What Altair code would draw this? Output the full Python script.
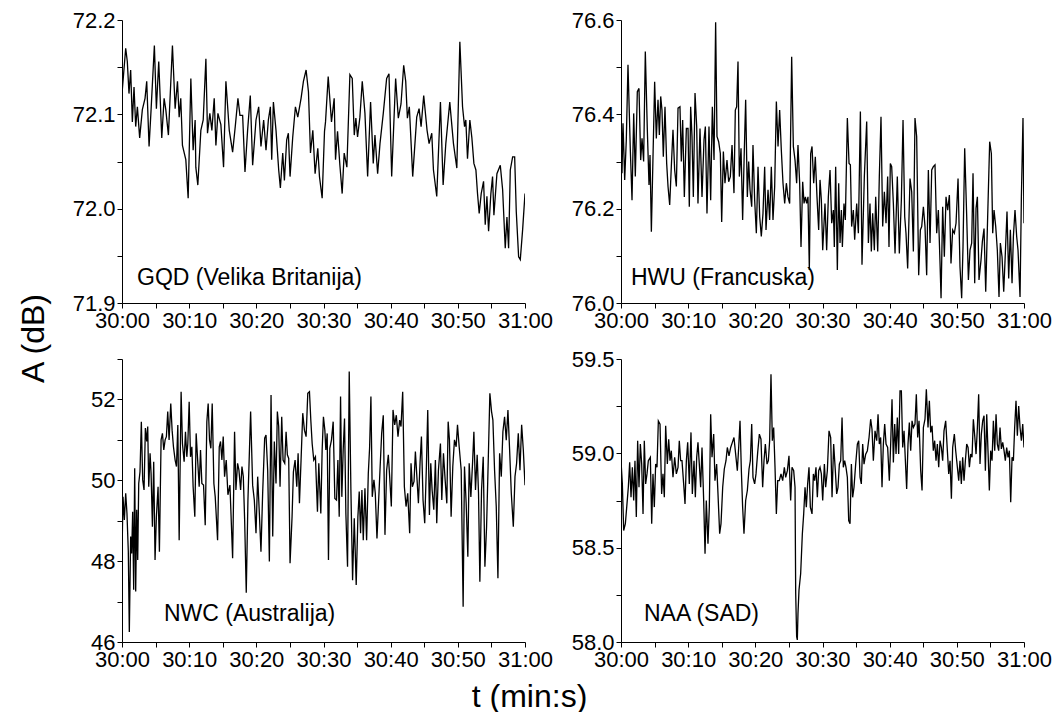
import altair as alt
import pandas as pd

# ---------------- data ----------------
gqd_t = [0.0, 0.55, 0.79, 1.04, 1.29, 1.54, 1.79, 2.04, 2.29, 2.63, 3.03, 3.43, 3.68, 4.03, 4.33, 4.82, 5.12, 5.47,
         5.92, 6.27, 6.52, 6.91, 7.51, 7.91, 8.26, 8.51, 8.75, 9.00, 9.50, 9.85, 10.25, 10.59, 10.89, 10.99, 11.29,
         11.74, 12.09, 12.49, 12.73, 13.08, 13.38, 13.73, 13.98, 14.28, 14.72, 15.12, 15.47, 15.97, 16.47, 16.86,
         17.26, 17.56, 17.96, 18.31, 18.70, 19.10, 19.45, 19.95, 20.35, 20.69, 21.09, 21.44, 21.79, 22.09, 22.29,
         22.54, 22.93, 23.33, 23.58, 23.93, 24.18, 24.52, 24.77, 25.02, 25.42, 25.82, 26.17, 26.66, 27.01, 27.41,
         27.76, 28.06, 28.41, 28.75, 29.15, 29.40, 29.80, 30.15, 30.30, 30.70, 31.19, 31.59, 31.79, 32.09, 32.44,
         32.78, 33.08, 33.48, 33.93, 34.28, 34.58, 34.82, 35.07, 35.42, 35.77, 36.17, 36.57, 37.01, 37.41, 37.66,
         38.06, 38.41, 38.90, 39.40, 39.75, 40.15, 40.74, 41.14, 41.54, 41.94, 42.24, 42.49, 42.78, 43.28, 43.88,
         44.23, 44.53, 44.92, 45.42, 45.72, 46.12, 46.37, 46.86, 47.41, 47.81, 48.21, 48.80, 49.35, 49.85, 50.30,
         50.70, 51.00, 51.19, 51.44, 51.79, 52.09, 52.39, 52.69, 52.93, 53.18, 53.48, 53.83, 54.08, 54.33, 54.58,
         54.92, 55.17, 55.37, 55.82, 56.32, 56.67, 57.06, 57.31, 57.56, 57.81, 58.16, 58.46, 58.70, 59.05, 59.30,
         59.65, 60.00]
gqd_a = [72.122, 72.170, 72.156, 72.122, 72.147, 72.092, 72.129, 72.087, 72.108, 72.075, 72.105, 72.117, 72.135,
         72.066, 72.105, 72.173, 72.106, 72.156, 72.075, 72.117, 72.105, 72.078, 72.173, 72.106, 72.135, 72.097,
         72.117, 72.067, 72.052, 72.011, 72.138, 72.062, 72.094, 72.044, 72.025, 72.083, 72.094, 72.159, 72.080,
         72.101, 72.083, 72.117, 72.067, 72.101, 72.089, 72.044, 72.135, 72.083, 72.060, 72.087, 72.117, 72.099,
         72.099, 72.039, 72.083, 72.120, 72.046, 72.094, 72.108, 72.066, 72.094, 72.062, 72.094, 72.108, 72.052,
         72.113, 72.083, 72.041, 72.022, 72.059, 72.030, 72.073, 72.080, 72.034, 72.076, 72.108, 72.097, 72.117,
         72.135, 72.147, 72.124, 72.059, 72.083, 72.037, 72.064, 72.034, 72.011, 72.082, 72.092, 72.140, 72.092,
         72.117, 72.052, 72.082, 72.046, 72.016, 72.059, 72.044, 72.142, 72.138, 72.078, 72.096, 72.076, 72.097,
         72.135, 72.101, 72.034, 72.113, 72.048, 72.078, 72.037, 72.069, 72.101, 72.138, 72.143, 72.034, 72.138,
         72.096, 72.111, 72.152, 72.135, 72.096, 72.108, 72.034, 72.097, 72.106, 72.087, 72.120, 72.083, 72.069,
         72.080, 72.041, 72.013, 72.113, 72.025, 72.069, 72.113, 72.069, 72.043, 72.177, 72.108, 72.087, 72.094,
         72.053, 72.094, 72.075, 72.048, 72.041, 72.016, 71.995, 72.016, 72.029, 71.983, 72.013, 71.976, 72.016,
         72.034, 71.993, 72.037, 72.046, 72.020, 71.958, 71.991, 71.958, 72.041, 72.055, 72.055, 71.997, 71.949,
         71.946, 71.978, 72.016]

hwu_t = [0.05, 0.15, 0.30, 0.55, 0.79, 1.04, 1.39, 1.64, 1.89, 2.13, 2.43, 2.68, 2.93, 3.13, 3.37, 3.62, 3.92, 4.17,
         4.32, 4.52, 5.01, 5.26, 5.51, 5.71, 5.91, 6.10, 6.30, 6.55, 6.80, 7.00, 7.25, 7.49, 7.74, 7.99, 8.24, 8.49,
         8.78, 8.98, 9.18, 9.43, 9.73, 9.98, 10.17, 10.37, 10.57, 10.77, 11.02, 11.27, 11.46, 11.76, 12.06, 12.36,
         12.56, 12.80, 13.10, 13.35, 13.60, 13.85, 14.09, 14.29, 14.54, 14.79, 14.99, 15.24, 15.48, 15.78, 16.03,
         16.28, 16.53, 16.82, 17.02, 17.22, 17.42, 17.62, 17.87, 18.11, 18.36, 18.56, 18.81, 19.01, 19.21, 19.46,
         19.65, 19.90, 20.15, 20.40, 20.65, 20.89, 21.14, 21.39, 21.59, 21.89, 22.13, 22.38, 22.63, 22.88, 23.13,
         23.38, 23.62, 23.87, 24.12, 24.37, 24.62, 24.86, 25.11, 25.41, 25.66, 25.91, 26.15, 26.35, 26.60, 26.80,
         27.05, 27.25, 27.45, 27.64, 27.84, 28.04, 28.24, 28.44, 28.69, 28.93, 29.18, 29.43, 29.63, 29.83, 30.03,
         30.37, 30.62, 30.87, 31.12, 31.37, 31.62, 31.76, 31.96, 32.21, 32.41, 32.61, 32.81, 32.96, 33.20, 33.40,
         33.70, 33.95, 34.15, 34.34, 34.59, 34.79, 35.09, 35.34, 35.64, 35.88, 36.23, 36.58, 36.83, 37.07, 37.27,
         37.47, 37.72, 37.92, 38.22, 38.46, 38.71, 38.96, 39.21, 39.46, 39.70, 39.90, 40.10, 40.30, 40.55, 40.80,
         41.14, 41.44, 41.74, 41.99, 42.24, 42.43, 42.68, 43.03, 43.28, 43.53, 43.77, 44.02, 44.32, 44.57, 44.77,
         45.02, 45.26, 45.51, 45.76, 46.01, 46.26, 46.50, 46.75, 47.00, 47.25, 47.50, 47.65, 47.89, 48.14, 48.39,
         48.64, 48.89, 49.13, 49.38, 49.63, 49.88, 50.18, 50.47, 50.72, 50.92, 51.17, 51.47, 51.72, 51.96, 52.21,
         52.41, 52.66, 52.86, 53.06, 53.30, 53.60, 53.80, 54.05, 54.30, 54.59, 54.89, 55.14, 55.34, 55.54, 55.79,
         56.03, 56.28, 56.48, 56.73, 56.98, 57.22, 57.47, 57.72, 57.97, 58.22, 58.42, 58.66, 58.91, 59.11, 59.41,
         59.61, 59.85, 60.00]
hwu_a = [76.385, 76.275, 76.381, 76.261, 76.346, 76.505, 76.324, 76.218, 76.402, 76.268, 76.448, 76.455, 76.303,
         76.349, 76.300, 76.533, 76.367, 76.250, 76.314, 76.151, 76.469, 76.349, 76.431, 76.356, 76.438, 76.409,
         76.310, 76.416, 76.296, 76.247, 76.208, 76.289, 76.367, 76.282, 76.247, 76.413, 76.416, 76.300, 76.388,
         76.225, 76.370, 76.370, 76.204, 76.416, 76.353, 76.225, 76.445, 76.374, 76.211, 76.370, 76.225, 76.346,
         76.374, 76.190, 76.374, 76.218, 76.416, 76.303, 76.595, 76.353, 76.342, 76.317, 76.172, 76.321, 76.254,
         76.303, 76.257, 76.268, 76.335, 76.233, 76.409, 76.416, 76.512, 76.268, 76.328, 76.176, 76.324, 76.431,
         76.225, 76.300, 76.240, 76.204, 76.335, 76.218, 76.148, 76.289, 76.183, 76.141, 76.190, 76.289, 76.155,
         76.240, 76.176, 76.289, 76.176, 76.247, 76.427, 76.332, 76.409, 76.324, 76.254, 76.211, 76.254, 76.225,
         76.211, 76.522, 76.332, 76.303, 76.254, 76.335, 76.254, 76.119, 76.257, 76.211, 76.225, 76.211, 76.225,
         76.070, 76.317, 76.332, 76.254, 76.310, 76.225, 76.155, 76.261, 76.218, 76.112,
         76.211, 76.112, 76.225, 76.282, 76.169, 76.197, 76.119, 76.289, 76.070, 76.254, 76.127, 76.197, 76.119,
         76.211, 76.176, 76.392, 76.296, 76.293, 76.162, 76.197, 76.134, 76.211, 76.148, 76.406, 76.081, 76.268,
         76.385, 76.127, 76.211, 76.109, 76.190, 76.112, 76.225, 76.109, 76.268, 76.395, 76.162, 76.236, 76.169,
         76.268, 76.119, 76.296, 76.289, 76.211, 76.105, 76.268, 76.105, 76.218, 76.388, 76.183, 76.148, 76.073,
         76.264, 76.236, 76.109, 76.392, 76.353, 76.059, 76.155, 76.162, 76.204, 76.162, 76.059, 76.282, 76.127,
         76.282, 76.289, 76.293, 76.148, 76.197, 76.084, 76.010, 76.204, 76.098, 76.225, 76.197, 76.229, 76.084,
         76.155, 76.148, 76.169, 76.264, 76.077, 76.010, 76.119, 76.328, 76.183, 76.049, 76.112, 76.127, 76.275,
         76.042, 76.201, 76.225, 76.049, 76.091, 76.130, 76.158, 76.024, 76.183, 76.342, 76.317, 76.148, 76.197,
         76.162, 76.112, 76.013, 76.127, 76.098, 76.024, 76.105, 76.194, 76.052, 76.155, 76.042, 76.141, 76.197,
         76.141, 76.112, 76.013, 76.225, 76.392, 76.169]

nwc_t = [0.0, 0.15, 0.35, 0.55, 0.74, 0.94, 1.09, 1.29, 1.44, 1.59, 1.74, 1.89, 2.04, 2.19, 2.34, 2.49, 2.68, 2.88,
         3.08, 3.28, 3.48, 3.68, 3.83, 3.98, 4.18, 4.33, 4.53, 4.72, 4.92, 5.12, 5.37, 5.57, 5.82, 6.02, 6.22, 6.42,
         6.61, 6.81, 7.01, 7.26, 7.46, 7.66, 7.91, 8.11, 8.31, 8.51, 8.80, 9.00, 9.25, 9.45, 9.65, 9.80, 10.00,
         10.20, 10.40, 10.59, 10.84, 11.04, 11.29, 11.49, 11.69, 11.89, 12.14, 12.39, 12.63, 12.83, 13.03, 13.23,
         13.43, 13.68, 13.88, 14.23, 14.48, 14.67, 14.87, 15.07, 15.27, 15.52, 15.77, 16.07, 16.47, 16.76, 16.96,
         17.21, 17.41, 17.66, 17.86, 18.06, 18.26, 18.50, 18.75, 19.15, 19.45, 19.70, 19.95, 20.20, 20.45, 20.69,
         20.94, 21.24, 21.44, 21.69, 21.94, 22.19, 22.44, 22.68, 22.93, 23.13, 23.33, 23.53, 23.78, 23.98, 24.23,
         24.43, 24.62, 24.82, 25.02, 25.32, 25.52, 25.77, 26.02, 26.22, 26.42, 26.66, 26.91, 27.16, 27.41, 27.66,
         27.91, 28.11, 28.31, 28.55, 28.80, 29.10, 29.30, 29.60, 29.80, 29.99, 30.20, 30.35, 30.55, 30.74, 30.94,
         31.19, 31.44, 31.69, 31.94, 32.14, 32.34, 32.54, 32.73, 32.93, 33.13, 33.33, 33.58, 33.83, 34.08, 34.33,
         34.58, 34.87, 35.12, 35.32, 35.52, 35.72, 35.92, 36.17, 36.42, 36.67, 36.86, 37.06, 37.26, 37.51, 37.71,
         37.96, 38.16, 38.41, 38.66, 38.90, 39.15, 39.40, 39.65, 39.85, 40.10, 40.35, 40.60, 40.84, 41.09, 41.34,
         41.54, 41.79, 42.04, 42.29, 42.54, 42.83, 43.03, 43.23, 43.48, 43.68, 43.93, 44.13, 44.38, 44.58, 44.82,
         45.07, 45.32, 45.52, 45.77, 45.97, 46.17, 46.42, 46.66, 46.86, 47.11, 47.41, 47.61, 47.86, 48.11, 48.36,
         48.56, 48.75, 49.00, 49.25, 49.50, 49.75, 49.95, 50.20, 50.50, 50.79, 50.99, 51.24, 51.49, 51.69, 51.94,
         52.19, 52.39, 52.63, 52.88, 53.08, 53.28, 53.53, 53.78, 54.03, 54.28, 54.53, 54.77, 55.02, 55.22, 55.47,
         55.72, 55.97, 56.22, 56.47, 56.71, 56.96, 57.21, 57.46, 57.71, 57.96, 58.26, 58.51, 58.75, 59.00, 59.25,
         59.50, 59.75, 60.00]
nwc_a = [48.19, 49.59, 49.02, 49.68, 49.18, 48.23, 46.25, 48.61, 48.19, 49.22, 47.29, 50.30, 47.25, 49.27, 48.03,
         49.92, 50.21, 51.45, 50.01, 49.76, 51.29, 50.96, 51.33, 49.84, 50.67, 50.17, 48.85, 50.46, 48.03, 49.10,
         49.84, 48.23, 51.00, 51.16, 50.75, 51.00, 51.08, 51.70, 51.00, 51.90, 51.24, 50.83, 50.50, 50.34, 51.37,
         48.52, 52.19, 50.91, 50.46, 51.20, 50.58, 50.91, 51.94, 50.58, 50.83, 49.84, 49.10, 51.16, 50.42, 49.84,
         50.75, 49.92, 49.88, 48.89, 51.45, 51.90, 51.00, 50.79, 51.90, 49.92, 49.59, 48.52, 50.83, 50.96, 50.50,
         51.08, 50.09, 50.50, 49.64, 49.88, 48.07, 51.20, 49.76, 50.42, 50.25, 49.76, 50.34, 50.09, 49.02, 47.22,
         49.51, 51.70, 49.88, 49.51, 48.69, 50.09, 49.18, 48.23, 49.68, 51.04, 51.12, 50.25, 47.99, 52.11, 48.61,
         50.96, 49.92, 51.70, 51.33, 49.84, 51.57, 50.50, 50.42, 51.20, 50.63, 50.54, 47.95, 49.10, 50.21, 50.50,
         49.84, 50.67, 49.43, 50.50, 51.66, 51.24, 51.08, 52.15, 52.19, 51.49, 50.91, 50.50, 50.58, 49.22, 50.42,
         49.18, 50.75, 51.57, 51.24, 50.75, 51.16, 48.03, 50.79, 51.00, 51.45, 49.55, 49.51, 50.50, 49.10, 52.07,
         49.59, 50.75, 51.53, 49.18, 47.86, 52.69, 49.76, 47.53, 49.06, 47.41, 49.10, 49.72, 48.69, 49.76, 48.52,
         49.80, 48.52, 50.17, 50.79, 52.07, 49.59, 50.01, 49.68, 48.56, 49.31, 50.25, 51.16, 51.61, 48.65, 50.25,
         50.63, 50.09, 49.35, 51.74, 51.37, 51.61, 51.08, 51.49, 51.33, 52.19, 49.84, 49.35, 49.68, 48.69, 50.42,
         49.84, 49.97, 50.71, 50.01, 49.43, 50.46, 51.08, 49.51, 48.94, 50.34, 51.74, 49.14, 50.42, 49.76, 49.27,
         50.50, 48.94, 50.25, 50.91, 49.51, 50.67, 50.01, 49.43, 51.45, 51.00, 49.10, 50.34, 51.00, 50.83, 51.37,
         50.83, 50.25, 46.87, 50.34, 49.43, 48.11, 50.42, 49.59, 50.42, 51.20, 49.76, 50.63, 49.68, 47.49, 49.76,
         50.58, 47.86, 48.85, 50.50, 52.15, 51.70, 51.49, 50.25, 49.35, 47.58, 50.67, 50.09, 51.20, 51.57, 50.99,
         51.74, 50.75, 49.68, 48.85, 50.09, 50.42, 51.16, 50.25, 51.37, 50.75, 49.88]

naa_t = [0.0, 0.20, 0.40, 0.65, 0.89, 1.09, 1.29, 1.49, 1.69, 1.89, 2.08, 2.28, 2.48, 2.68, 2.88, 3.08, 3.28, 3.47,
         3.67, 3.87, 4.07, 4.37, 4.57, 4.76, 4.96, 5.16, 5.36, 5.56, 5.81, 6.05, 6.25, 6.45, 6.65, 6.90, 7.10, 7.30,
         7.49, 7.74, 7.99, 8.24, 8.49, 8.68, 8.88, 9.08, 9.33, 9.53, 9.73, 9.93, 10.17, 10.42, 10.62, 10.87, 11.07,
         11.27, 11.46, 11.66, 11.86, 12.06, 12.31, 12.51, 12.70, 12.95, 13.15, 13.35, 13.55, 13.80, 13.99, 14.24,
         14.44, 14.69, 14.89, 15.14, 15.38, 15.63, 15.83, 16.08, 16.33, 16.58, 16.82, 17.07, 17.32, 17.52, 17.72,
         17.92, 18.11, 18.31, 18.56, 18.81, 19.06, 19.26, 19.46, 19.65, 19.90, 20.10, 20.35, 20.60, 20.84, 21.09,
         21.29, 21.49, 21.74, 21.94, 22.13, 22.33, 22.53, 22.73, 22.93, 23.13, 23.33, 23.57, 23.82, 24.07, 24.32,
         24.52, 24.77, 25.01, 25.26, 25.46, 25.71, 25.91, 26.01, 26.15, 26.25, 26.35, 26.50, 26.75, 27.00, 27.20,
         27.40, 27.59, 27.79, 27.99, 28.19, 28.44, 28.64, 28.83, 29.03, 29.23, 29.43, 29.63, 29.83, 30.03, 30.28,
         30.47, 30.72, 30.97, 31.22, 31.42, 31.66, 31.91, 32.11, 32.31, 32.51, 32.71, 32.91, 33.10, 33.30, 33.50,
         33.70, 33.90, 34.10, 34.30, 34.49, 34.69, 34.94, 35.19, 35.39, 35.59, 35.78, 35.98, 36.18, 36.43, 36.68,
         36.93, 37.17, 37.37, 37.57, 37.82, 38.07, 38.27, 38.46, 38.66, 38.86, 39.06, 39.26, 39.46, 39.70, 39.95,
         40.15, 40.35, 40.55, 40.75, 40.95, 41.14, 41.34, 41.54, 41.74, 41.94, 42.14, 42.34, 42.53, 42.73, 42.93,
         43.13, 43.33, 43.53, 43.77, 43.97, 44.17, 44.37, 44.62, 44.82, 45.02, 45.26, 45.46, 45.71, 45.91, 46.11,
         46.31, 46.50, 46.70, 46.90, 47.10, 47.30, 47.50, 47.70, 47.89, 48.09, 48.34, 48.59, 48.79, 48.99, 49.19,
         49.38, 49.63, 49.83, 50.08, 50.28, 50.47, 50.67, 50.87, 51.07, 51.27, 51.47, 51.67, 51.87, 52.06, 52.26,
         52.46, 52.66, 52.86, 53.06, 53.25, 53.45, 53.65, 53.85, 54.05, 54.25, 54.45, 54.64, 54.84, 55.04, 55.24,
         55.44, 55.64, 55.84, 56.03, 56.23, 56.43, 56.63, 56.83, 57.03, 57.22, 57.42, 57.62, 57.82, 58.02, 58.22,
         58.42, 58.61, 58.81, 59.01, 59.21, 59.41, 59.61, 59.81, 60.00]
naa_a = [58.961, 58.838, 58.591, 58.627, 58.732, 58.820, 58.952, 58.767, 58.926, 58.750, 58.961, 58.662, 59.067,
         58.820, 59.049, 58.943, 58.679, 59.067, 58.838, 58.891, 58.961, 58.979, 58.627, 58.891, 58.715, 58.943,
         58.926, 59.172, 59.155, 58.785, 58.891, 58.767, 59.146, 58.943, 59.075, 58.961, 59.014, 58.873, 58.979,
         58.891, 58.926, 59.067, 58.961, 58.961, 58.838, 58.732, 58.961, 59.058, 58.838, 59.111, 58.785, 58.961,
         58.767, 58.979, 59.058, 58.943, 58.820, 59.031, 58.750, 58.468, 58.750, 58.521, 58.715, 59.207, 58.979,
         59.102, 58.855, 58.943, 58.785, 58.574, 58.627, 58.820, 58.917, 58.961, 59.031, 58.987, 59.031, 59.058,
         59.084, 58.996, 58.908, 59.031, 59.172, 58.908, 58.715, 58.574, 58.750, 58.803, 58.917, 58.961, 59.155,
         58.873, 58.838, 58.891, 59.005, 59.102, 59.075, 58.820, 58.961, 59.049, 58.943, 58.961, 59.067, 59.419,
         59.067, 59.137, 58.926, 58.679, 58.855, 58.855, 58.891, 58.855, 58.926, 58.873, 58.908, 58.987, 58.750,
         58.926, 58.908, 58.820, 58.257, 58.028, 58.011, 58.151, 58.275, 58.363, 58.574, 58.679, 58.820, 58.715,
         58.838, 58.926, 58.715, 58.679, 58.891, 58.855, 58.926, 58.767, 58.908, 58.926, 58.891, 58.750, 58.943,
         58.820, 58.908, 59.119, 59.084, 58.767, 59.049, 58.908, 58.785, 58.820, 58.943, 58.961, 59.190, 58.926,
         58.961, 58.926, 58.873, 58.644, 58.627, 58.943, 58.767, 58.820, 58.943, 59.049, 59.067, 58.873, 58.838,
         59.049, 58.943, 58.996, 59.014, 59.084, 59.181, 59.128, 58.961, 59.119, 59.067, 59.207, 59.049, 59.084,
         58.820, 59.049, 59.155, 59.049, 59.031, 58.855, 59.049, 59.287, 58.952, 59.155, 58.996, 59.190, 58.996,
         59.331, 59.331, 59.031, 59.119, 58.961, 58.811, 59.049, 59.163, 59.014, 59.172, 59.137, 59.155, 59.313,
         59.084, 59.172, 58.908, 58.803, 59.137, 59.181, 59.339, 59.137, 59.278, 59.111, 59.146, 59.014, 59.067,
         58.961, 59.049, 58.926, 59.067, 59.031, 58.961, 59.119, 59.172, 59.014, 58.891, 58.961, 58.759, 59.031,
         59.102, 59.014, 58.926, 58.855, 58.961, 58.838, 58.979, 58.855, 58.961, 59.049, 59.031, 58.926, 58.996,
         58.979, 59.181, 59.093, 58.996, 59.137, 59.313, 58.943, 59.102, 59.172, 59.199, 58.908, 59.207, 59.014,
         58.803, 59.014, 58.961, 59.172, 59.014, 59.207, 59.049, 59.014, 59.137, 59.023, 59.058, 59.014, 58.961,
         59.031, 58.979, 59.014, 58.741, 58.979, 58.961, 59.137, 59.278, 59.093, 59.251, 59.137, 59.067, 59.155,
         59.031]

station_labels = ["GQD (Velika Britanija)", "HWU (Francuska)", "NWC (Australija)", "NAA (SAD)"]

x_tick_values = [0, 5, 10, 15, 20, 25, 30, 35, 40, 45, 50, 55, 60]
x_tick_labels = ["30:00", "", "30:10", "", "30:20", "", "30:30", "", "30:40", "", "30:50", "", "31:00"]

gqd_y_ticks = [71.9, 71.95, 72.0, 72.05, 72.1, 72.15, 72.2]
gqd_y_labels = ["71.9", "", "72.0", "", "72.1", "", "72.2"]
hwu_y_ticks = [76.0, 76.1, 76.2, 76.3, 76.4, 76.5, 76.6]
hwu_y_labels = ["76.0", "", "76.2", "", "76.4", "", "76.6"]
nwc_y_ticks = [46, 47, 48, 49, 50, 51, 52, 53]
nwc_y_labels = ["46", "", "48", "", "50", "", "52", ""]
naa_y_ticks = [58.0, 58.25, 58.5, 58.75, 59.0, 59.25, 59.5]
naa_y_labels = ["58.0", "", "58.5", "", "59.0", "", "59.5"]

x_title = "t (min:s)"
y_title = "A (dB)"

FONT = "Liberation Sans"
W, H = 403, 283


def js_list(items):
    return "[" + ",".join("'" + s + "'" for s in items) + "]"


def panel(t, a, label, ticks, labels, label_pos, xtitle=None, ytitle=None):
    df = pd.DataFrame({"t": t, "A": a})
    lo, hi = ticks[0], ticks[-1]
    step = ticks[1] - ticks[0]
    y_expr = js_list(labels) + "[round((datum.value - %r) / %r)]" % (lo, step)
    x_expr = js_list(x_tick_labels) + "[round(datum.value / 5)]"

    common = dict(labelOverlap=False, labelFlush=False, labelBound=False)
    x_kw = dict(values=x_tick_values, labelExpr=x_expr, title=xtitle, **common)
    if xtitle:
        x_kw.update(titleX=407, titleY=54, titleBaseline="middle", titleAlign="center",
                    titleFontSize=32, titleFontWeight="normal", titleFont=FONT, titleColor="black")
    y_kw = dict(values=ticks, labelExpr=y_expr, title=ytitle, **common)
    if ytitle:
        y_kw.update(titleX=-89, titleY=318, titleBaseline="middle", titleAlign="center",
                    titleAngle=-90, titleFontSize=32, titleFontWeight="normal",
                    titleFont=FONT, titleColor="black")

    line = alt.Chart(df).mark_line(color="black", strokeWidth=1.3, clip=True).encode(
        x=alt.X("t:Q", scale=alt.Scale(domain=[0, 60], nice=False, zero=False), axis=alt.Axis(**x_kw)),
        y=alt.Y("A:Q", scale=alt.Scale(domain=[lo, hi], nice=False, zero=False), axis=alt.Axis(**y_kw)),
    )
    txt = alt.Chart(pd.DataFrame({"label": [label]})).mark_text(
        align="left", baseline="middle", font=FONT, fontSize=23, color="black"
    ).encode(x=alt.value(label_pos[0]), y=alt.value(label_pos[1]), text="label:N")
    return alt.layer(line, txt).properties(width=W, height=H)


p1 = panel(gqd_t, gqd_a, station_labels[0], gqd_y_ticks, gqd_y_labels, (15, 258), ytitle=y_title)
p2 = panel(hwu_t, hwu_a, station_labels[1], hwu_y_ticks, hwu_y_labels, (10, 258))
p3 = panel(nwc_t, nwc_a, station_labels[2], nwc_y_ticks, nwc_y_labels, (42, 255), xtitle=x_title)
p4 = panel(naa_t, naa_a, station_labels[3], naa_y_ticks, naa_y_labels, (23, 255))

chart = alt.concat(
    p1, p2, p3, p4, columns=2, spacing={"row": 56, "column": 96}, bounds="flush"
).properties(
    padding={"left": 17, "top": 9, "right": 0, "bottom": 0}
).configure_view(stroke=None).configure_axis(
    grid=False, domainColor="black", domainWidth=1, tickColor="black", tickWidth=1, tickSize=5,
    labelColor="black", labelFont=FONT, labelFontSize=22, labelPadding=2,
)

chart.save("out.html", embed_options={"renderer": "svg", "actions": False})
